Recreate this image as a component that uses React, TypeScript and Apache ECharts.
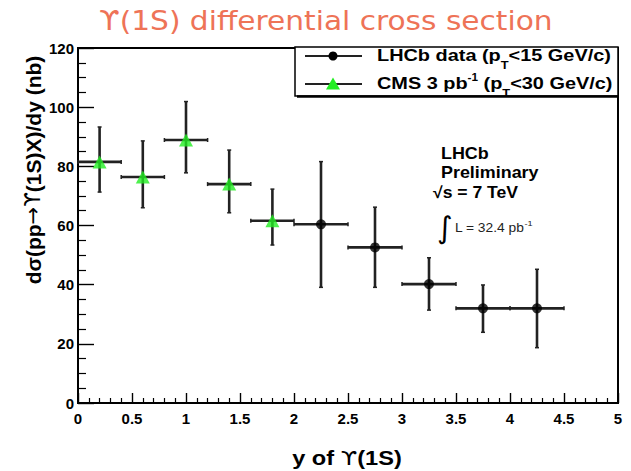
import React, { useEffect, useRef } from "react";
import * as echarts from "echarts";

// Rapidity bins (centres, half-widths) and cross sections in nb
const cmsRapidity = [0.2, 0.6, 1.0, 1.4, 1.8];
const cmsHalfWidth = [0.2, 0.2, 0.2, 0.2, 0.2];
const cmsValues = [81.5, 76.4, 88.9, 74.0, 61.6];
const cmsErrUp = [11.8, 12.2, 13.0, 11.5, 10.7];
const cmsErrDown = [10.2, 10.4, 11.1, 9.7, 8.2];

const lhcbRapidity = [2.25, 2.75, 3.25, 3.75, 4.25];
const lhcbHalfWidth = [0.25, 0.25, 0.25, 0.25, 0.25];
const lhcbValues = [60.4, 52.6, 40.2, 32.0, 32.0];
const lhcbErrUp = [21.2, 13.6, 8.9, 7.9, 13.2];
const lhcbErrDown = [21.3, 13.5, 8.8, 8.1, 13.3];

const xTicks = { min: 0, max: 5, interval: 0.5 };
const yTicks = { min: 0, max: 120, interval: 20 };

const SANS = "'Liberation Sans'";
const DJV = "'DejaVu Sans'";
const GREEN = "#22ee22";
const BAR = "#222222";

type Seg = { t: string; font: string; dy?: number; fill?: string };

let measureCtx: CanvasRenderingContext2D | null = null;
function textWidth(t: string, font: string) {
  if (!measureCtx) measureCtx = document.createElement("canvas").getContext("2d");
  if (!measureCtx) return t.length * 8;
  measureCtx.font = font;
  return measureCtx.measureText(t).width;
}

// A line of text built from differently styled pieces (sub/superscripts, symbols)
function composite(
  segs: Seg[],
  opts: { x: number; y: number; scaleX?: number; rotation?: number; center?: boolean; z?: number }
) {
  const widths = segs.map((s) => textWidth(s.t, s.font));
  const total = widths.reduce((a, b) => a + b, 0);
  const z = opts.z || 0;
  let cx = opts.center ? -total / 2 : 0;
  const children = segs.map((s, i) => {
    const el = {
      type: "text",
      x: cx,
      y: s.dy || 0,
      z,
      style: { text: s.t, font: s.font, fill: s.fill || "#000", align: "left", verticalAlign: "middle" },
    };
    cx += widths[i];
    return el;
  });
  return {
    type: "group",
    x: opts.x,
    y: opts.y,
    scaleX: opts.scaleX || 1,
    rotation: opts.rotation || 0,
    z,
    children,
  };
}

function errorRows(xs: number[], hw: number[], ys: number[], up: number[], dn: number[]) {
  return xs.map((x, i) => [x, ys[i], x - hw[i], x + hw[i], ys[i] - dn[i], ys[i] + up[i]]);
}

function renderErrorBar(params: any, api: any) {
  const c = api.coord([api.value(0), api.value(1)]);
  const l = api.coord([api.value(2), api.value(1)]);
  const r = api.coord([api.value(3), api.value(1)]);
  const lo = api.coord([api.value(0), api.value(4)]);
  const hi = api.coord([api.value(0), api.value(5)]);
  const style = { stroke: BAR, lineWidth: 2.6 };
  const capStyle = { stroke: BAR, lineWidth: 1.5 };
  const cap = 2;
  return {
    type: "group",
    children: [
      { type: "line", shape: { x1: l[0], y1: c[1], x2: r[0], y2: c[1] }, style },
      { type: "line", shape: { x1: lo[0], y1: lo[1], x2: hi[0], y2: hi[1] }, style },
      { type: "line", shape: { x1: l[0], y1: c[1] - cap, x2: l[0], y2: c[1] + cap }, style: capStyle },
      { type: "line", shape: { x1: r[0], y1: c[1] - cap, x2: r[0], y2: c[1] + cap }, style: capStyle },
      { type: "line", shape: { x1: hi[0] - cap, y1: hi[1], x2: hi[0] + cap, y2: hi[1] }, style: capStyle },
      { type: "line", shape: { x1: lo[0] - cap, y1: lo[1], x2: lo[0] + cap, y2: lo[1] }, style: capStyle },
    ],
  };
}

export default function App() {
  const ref = useRef<HTMLDivElement>(null);

  useEffect(() => {
    if (!ref.current) return;
    const chart = echarts.init(ref.current, null, { renderer: "svg" });

    const axisCommon = {
      axisLine: { show: true, lineStyle: { color: "#000", width: 2 } },
      splitLine: { show: false },
    };

    const lg = `bold 17px ${SANS}`;
    const lgSub = `bold 11px ${SANS}`;
    const lgSup = `bold 10px ${SANS}`;
    const yt = `bold 21px ${SANS}`;
    const ytSym = `21px ${DJV}`;
    const xt = `bold 20px ${SANS}`;
    const xtSym = `20px ${DJV}`;

    chart.setOption({
      animation: false,
      backgroundColor: "#fff",
      grid: {
        left: 78,
        top: 48,
        width: 540,
        height: 355,
        show: true,
        borderColor: "#000",
        borderWidth: 2,
      },
      xAxis: {
        type: "value",
        ...xTicks,
        ...axisCommon,
        axisTick: { inside: true, length: 10, lineStyle: { color: "#000", width: 1.4 } },
        minorTick: { show: true, splitNumber: 5, length: 5, lineStyle: { color: "#000", width: 1.2 } },
        axisLabel: {
          color: "#000",
          fontFamily: "Liberation Sans",
          fontWeight: "bold",
          fontSize: 15,
          margin: 8,
          formatter: (v: number) => String(v),
        },
      },
      yAxis: {
        type: "value",
        ...yTicks,
        ...axisCommon,
        axisTick: { inside: true, length: 16, lineStyle: { color: "#000", width: 1.4 } },
        minorTick: { show: true, splitNumber: 4, length: 8, lineStyle: { color: "#000", width: 1.2 } },
        axisLabel: {
          color: "#000",
          fontFamily: "Liberation Sans",
          fontWeight: "bold",
          fontSize: 15,
          margin: 4,
        },
      },
      series: [
        {
          type: "custom",
          name: "CMS bars",
          renderItem: renderErrorBar,
          encode: { x: [0, 2, 3], y: [1, 4, 5] },
          data: errorRows(cmsRapidity, cmsHalfWidth, cmsValues, cmsErrUp, cmsErrDown),
          z: 2,
        },
        {
          type: "custom",
          name: "LHCb bars",
          renderItem: renderErrorBar,
          encode: { x: [0, 2, 3], y: [1, 4, 5] },
          data: errorRows(lhcbRapidity, lhcbHalfWidth, lhcbValues, lhcbErrUp, lhcbErrDown),
          z: 2,
        },
        {
          type: "scatter",
          name: "CMS 3 pb-1",
          symbol: "triangle",
          symbolSize: [14, 13],
          itemStyle: { color: GREEN },
          data: cmsRapidity.map((x, i) => [x, cmsValues[i]]),
          z: 3,
        },
        {
          type: "scatter",
          name: "LHCb data",
          symbol: "circle",
          symbolSize: 10,
          itemStyle: { color: "#000" },
          data: lhcbRapidity.map((x, i) => [x, lhcbValues[i]]),
          z: 3,
        },
      ],
      graphic: [
        // title
        {
          type: "text",
          x: 99,
          y: 21,
          scaleX: 1.14,
          style: {
            text: "ϒ(1S) differential cross section",
            font: `26px ${DJV}`,
            fill: "#ee7357",
            align: "left",
            verticalAlign: "middle",
          },
        },
        // legend box
        {
          type: "rect",
          z: 10,
          shape: { x: 295, y: 47, width: 323, height: 49 },
          style: { fill: "#fff", stroke: "#000", lineWidth: 1.5 },
        },
        {
          type: "line",
          z: 10,
          shape: { x1: 297, y1: 96.5, x2: 618, y2: 96.5 },
          style: { stroke: "#000", lineWidth: 2.5 },
        },
        {
          type: "line",
          z: 11,
          shape: { x1: 305, y1: 56, x2: 362, y2: 56 },
          style: { stroke: BAR, lineWidth: 2 },
        },
        { type: "circle", z: 11, shape: { cx: 333, cy: 56, r: 4.5 }, style: { fill: "#000" } },
        {
          type: "line",
          z: 11,
          shape: { x1: 305, y1: 84, x2: 362, y2: 84 },
          style: { stroke: BAR, lineWidth: 2 },
        },
        {
          type: "polygon",
          z: 11,
          shape: { points: [[333, 77.5], [326, 89.5], [340, 89.5]] },
          style: { fill: GREEN },
        },
        composite(
          [
            { t: "LHCb data (p", font: lg },
            { t: "T", font: lgSub, dy: 10 },
            { t: "<15 GeV/c)", font: lg },
          ],
          { x: 377, y: 55, scaleX: 1.17, z: 12 }
        ),
        composite(
          [
            { t: "CMS 3 pb", font: lg },
            { t: "-1", font: lgSup, dy: -6 },
            { t: " (p", font: lg },
            { t: "T", font: lgSub, dy: 10 },
            { t: "<30 GeV/c)", font: lg },
          ],
          { x: 377, y: 83, scaleX: 1.17, z: 12 }
        ),
        // experiment annotation
        {
          type: "text",
          x: 441,
          y: 154,
          scaleX: 1.12,
          style: { text: "LHCb", font: `bold 16px ${SANS}`, fill: "#000", verticalAlign: "middle" },
        },
        {
          type: "text",
          x: 441,
          y: 173,
          scaleX: 1.12,
          style: { text: "Preliminary", font: `bold 16px ${SANS}`, fill: "#000", verticalAlign: "middle" },
        },
        {
          type: "text",
          x: 433,
          y: 193,
          scaleX: 1.1,
          style: { text: "√s = 7 TeV", font: `bold 16px ${SANS}`, fill: "#000", verticalAlign: "middle" },
        },
        {
          type: "text",
          x: 437,
          y: 227,
          style: { text: "∫", font: `30px ${DJV}`, fill: "#000", verticalAlign: "middle" },
        },
        composite(
          [
            { t: "L = 32.4 pb", font: `12px ${SANS}`, fill: "#222" },
            { t: "-1", font: `8px ${SANS}`, dy: -5, fill: "#222" },
          ],
          { x: 455, y: 228, scaleX: 1.15 }
        ),
        // axis titles
        composite(
          [
            { t: "dσ(pp", font: yt },
            { t: "→", font: ytSym },
            { t: "ϒ", font: ytSym },
            { t: "(1S)X)/dy (nb)", font: yt },
          ],
          { x: 33, y: 170, rotation: Math.PI / 2, center: true }
        ),
        composite(
          [
            { t: "y of ", font: xt },
            { t: "ϒ", font: xtSym },
            { t: "(1S)", font: xt },
          ],
          { x: 347, y: 458, scaleX: 1.18, center: true }
        ),
      ],
    });

    return () => chart.dispose();
  }, []);

  return (
    <div
      ref={ref}
      style={{ position: "absolute", left: 0, top: 0, width: 631, height: 471 }}
    />
  );
}
